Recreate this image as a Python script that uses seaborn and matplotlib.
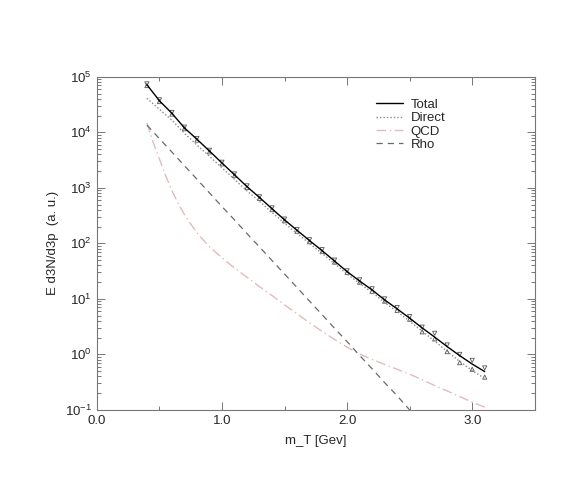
import numpy as np
import pandas as pd
import seaborn as sns
import matplotlib
matplotlib.use("Agg")
import matplotlib.pyplot as plt
from matplotlib.ticker import MultipleLocator, LogLocator


sns.set_theme(style="ticks")
plt.rcParams["font.family"] = ["Liberation Sans", "DejaVu Sans"]

# transverse mass grid [GeV]
mt = [0.4, 0.5, 0.6, 0.7, 0.8, 0.9, 1.0, 1.1, 1.2, 1.3, 1.4, 1.5, 1.6, 1.7,
      1.8, 1.9, 2.0, 2.1, 2.2, 2.3, 2.4, 2.5, 2.6, 2.7, 2.8, 2.9, 3.0, 3.1]

total = [72000, 37000, 22000, 12000, 7500, 4600, 2800, 1720, 1050, 670,
         420, 265, 172, 112, 74, 48, 31, 21, 14.5, 9.6, 6.6, 4.5, 3.0,
         2.05, 1.38, 0.95, 0.67, 0.49]
direct = [41000, 26000, 16500, 9600, 5900, 3700, 2300, 1420, 880, 570,
          360, 230, 151, 99, 66, 43, 28, 19, 13.1, 8.6, 5.9, 3.95, 2.62,
          1.74, 1.13, 0.75, 0.51, 0.37]

# QCD read on a finer grid where it bends fast
mt_qcd = [0.4, 0.45, 0.5, 0.55, 0.6, 0.65, 0.7, 0.75, 0.8, 0.85, 0.9, 1.0,
          1.1, 1.2, 1.3, 1.4, 1.5, 1.6, 1.7, 1.8, 1.9, 2.0, 2.1, 2.2, 2.3,
          2.4, 2.5, 2.6, 2.7, 2.8, 2.9, 3.0, 3.1]
qcd = [14800, 6600, 3300, 1660, 890, 525, 330, 224, 155, 115, 87, 55,
       36, 24.5, 16.6, 11.5, 7.8, 5.4, 3.7, 2.6, 1.86, 1.35, 1.02, 0.81,
       0.66, 0.54, 0.44, 0.35, 0.275, 0.22, 0.174, 0.138, 0.112]

mt_rho = mt[:22]
rho = [13500, 7700, 4400, 2500, 1430, 810, 460, 265, 150, 86, 49, 28, 16,
       9.1, 5.2, 2.95, 1.7, 0.96, 0.55, 0.31, 0.18, 0.10]

# data points (upper / lower)
data_up = [74500, 38500, 22800, 12400, 7750, 4750, 2890, 1780, 1085, 690,
           435, 274, 178, 116, 77, 50, 32, 22, 15.2, 10, 7.0, 4.8, 3.1,
           2.4, 1.48, 1.0, 0.78, 0.57]
data_low = [69500, 35800, 21300, 11600, 7250, 4450, 2710, 1660, 1010, 645,
            405, 255, 165, 107, 71, 46, 30, 20, 13.7, 9.1, 6.2, 4.3, 2.55,
            1.9, 1.12, 0.71, 0.54, 0.39]

df = pd.DataFrame({"mt": mt, "total": total, "direct": direct,
                   "up": data_up, "low": data_low})
df_qcd = pd.DataFrame({"mt": mt_qcd, "qcd": qcd})
df_rho = pd.DataFrame({"mt": mt_rho, "rho": rho})

fig = plt.figure(figsize=(5.8, 4.8), dpi=100)
ax = fig.add_axes([0.167, 0.146, 0.755, 0.694])

sns.lineplot(data=df, x="mt", y="total", ax=ax, color="black", lw=1.0,
             label="Total")
sns.lineplot(data=df, x="mt", y="direct", ax=ax, color="#8a8a8a", lw=1.0,
             linestyle=(0, (1, 1.5)), label="Direct")
sns.lineplot(data=df_qcd, x="mt", y="qcd", ax=ax, color="#e2bcbc", lw=1.0,
             linestyle=(0, (7, 2.5, 1, 2.5)), label="QCD")
sns.lineplot(data=df_rho, x="mt", y="rho", ax=ax, color="#6a6a6a", lw=0.9,
             linestyle=(0, (5, 4)), label="Rho")

sns.scatterplot(data=df, x="mt", y="up", ax=ax, marker="v", s=9,
                facecolor="none", edgecolor="#555555", linewidth=0.6,
                legend=False)
sns.scatterplot(data=df, x="mt", y="low", ax=ax, marker="^", s=9,
                facecolor="none", edgecolor="#555555", linewidth=0.6,
                legend=False)

ax.set_yscale("log")
ax.set_xlim(0, 3.5)
ax.set_ylim(0.1, 1e5)
ax.xaxis.set_major_locator(MultipleLocator(1.0))
ax.xaxis.set_minor_locator(MultipleLocator(0.5))
ax.xaxis.set_major_formatter(matplotlib.ticker.FormatStrFormatter("%.1f"))
ax.yaxis.set_major_locator(LogLocator(base=10, numticks=10))
ax.yaxis.set_minor_locator(LogLocator(base=10, subs=np.arange(2, 10),
                                      numticks=20))
ax.yaxis.set_minor_formatter(matplotlib.ticker.NullFormatter())

ax.tick_params(which="both", direction="in", top=True, right=True,
               labelsize=9.5, color="#777777", width=0.7)
ax.tick_params(which="major", length=6)
ax.tick_params(which="minor", length=3)
for s in ax.spines.values():
    s.set_color("#777777")
    s.set_linewidth(0.8)

ax.set_xlabel("m_T [Gev]", fontsize=9.5, labelpad=6)
ax.set_ylabel("E d3N/d3p  (a. u.)", fontsize=9.5, labelpad=4)

ax.legend(loc="upper left", bbox_to_anchor=(0.626, 0.95), frameon=False,
          fontsize=9.5, handlelength=2.0, handletextpad=0.6,
          labelspacing=0.08, borderaxespad=0)

fig.savefig("out.png", dpi=100)
